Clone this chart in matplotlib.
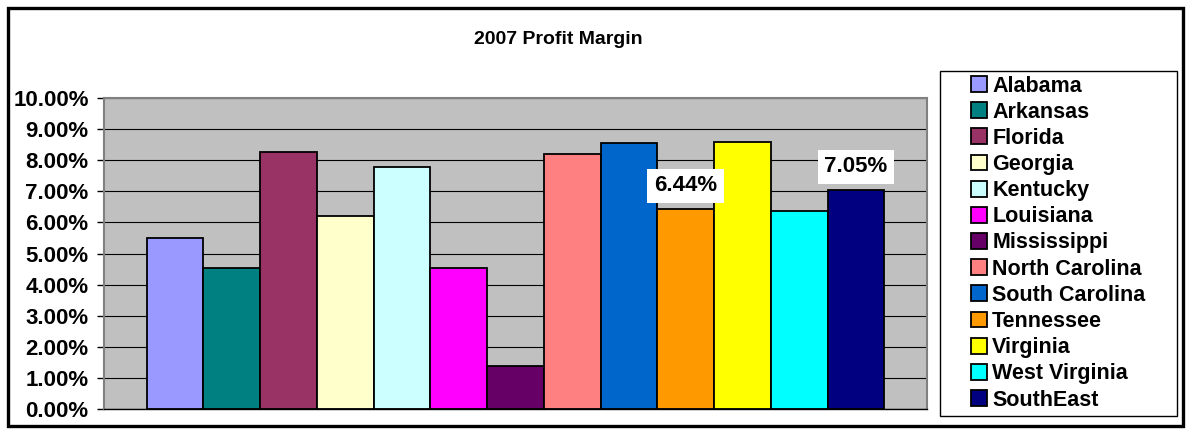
import matplotlib
matplotlib.use("Agg")
import matplotlib.pyplot as plt
from matplotlib.patches import Rectangle
from matplotlib.ticker import FuncFormatter

plt.rcParams['font.family'] = ['Liberation Sans', 'DejaVu Sans']
plt.rcParams['font.weight'] = 'bold'

# data (percent)
states = ['Alabama', 'Arkansas', 'Florida', 'Georgia', 'Kentucky', 'Louisiana',
          'Mississippi', 'North Carolina', 'South Carolina', 'Tennessee',
          'Virginia', 'West Virginia', 'SouthEast']
margins = [5.50, 4.52, 8.26, 6.21, 7.78, 4.52, 1.38, 8.19, 8.56, 6.44, 8.60, 6.37, 7.05]
colors = ['#9999FF', '#008080', '#993366', '#FFFFCC', '#CCFFFF', '#FF00FF',
          '#660066', '#FF8080', '#0066CC', '#FF9900', '#FFFF00', '#00FFFF', '#000080']
labeled = ['Tennessee', 'SouthEast']
yticks = [0, 1, 2, 3, 4, 5, 6, 7, 8, 9, 10]

W, H = 1188, 429
fig = plt.figure(figsize=(W / 100, H / 100), dpi=100)
fig.patch.set_facecolor('white')

# outer chart frame
fig.add_artist(Rectangle((8 / W, 3 / H), 1175 / W, 418 / H, transform=fig.transFigure,
                         fill=False, edgecolor='black', linewidth=2.4))

ax = fig.add_axes([104 / W, 1 - 409 / H, 823 / W, 311 / H])
ax.set_facecolor('#C0C0C0')
ax.set_axisbelow(True)

for i, (s, v, c) in enumerate(zip(states, margins, colors)):
    ax.bar(i, v, width=1.0, color=c, edgecolor='black', linewidth=1.3, label=s)

for i, (s, v) in enumerate(zip(states, margins)):
    if s in labeled:
        ax.annotate(f'{v:.2f}%', (i, v), xytext=(0, 16.5), textcoords='offset points',
                    ha='center', va='center', fontsize=16, fontweight='bold',
                    bbox=dict(boxstyle='square,pad=0.3', facecolor='white', edgecolor='none'))

ax.set_xlim(-1.253, 13.253)
ax.set_ylim(0, 10)
ax.set_yticks(yticks)
ax.yaxis.set_major_formatter(FuncFormatter(lambda y, p: f'{y:.2f}%'))
ax.tick_params(axis='y', direction='out', length=5, width=1, color='black',
               labelsize=16, pad=6)
ax.tick_params(axis='x', bottom=False, labelbottom=False)
ax.grid(axis='y', color='black', linewidth=0.8)
for sp in ['top', 'right', 'left']:
    ax.spines[sp].set_color('#808080')
    ax.spines[sp].set_linewidth(1.5)
ax.spines['bottom'].set_color('black')
ax.spines['bottom'].set_linewidth(1.0)

fig.text(558 / W, 1 - 40 / H, '2007 Profit Margin', ha='center', va='center',
         fontsize=14, fontweight='bold')

# legend frame + entries
fig.add_artist(Rectangle((940 / W, 1 - 416 / H), 237 / W, 345 / H, transform=fig.transFigure,
                         facecolor='white', edgecolor='black', linewidth=1.0, zorder=1))
leg = fig.legend(loc='center', bbox_to_anchor=(1058 / W, 1 - 243 / H), frameon=False,
                 fontsize=15.5, handlelength=0.75, handleheight=0.75, handletextpad=0.25,
                 labelspacing=0.24, borderpad=0)
leg.set_zorder(2)

fig.savefig('out.png', dpi=100)
